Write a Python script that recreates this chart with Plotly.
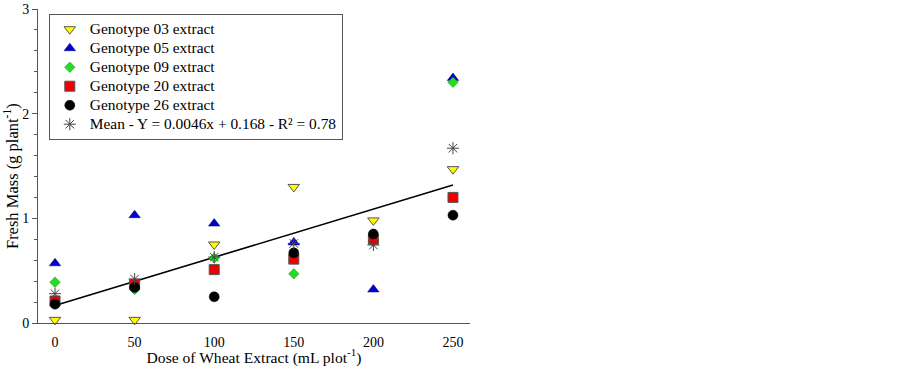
import plotly.graph_objects as go

doses = [0, 50, 100, 150, 200, 250]
g03 = [0.03, 0.03, 0.75, 1.30, 0.98, 1.47]
g05 = [0.57, 1.03, 0.95, 0.77, 0.32, 2.34]
g09 = [0.39, 0.32, 0.62, 0.47, 0.78, 2.30]
g20 = [0.21, 0.37, 0.51, 0.61, 0.80, 1.20]
g26 = [0.18, 0.34, 0.25, 0.67, 0.85, 1.03]
mean_vals = [0.28, 0.42, 0.63, 0.76, 0.745, 1.67]
slope, intercept = 0.0046, 0.168
fit_x = [0, 250]

names = ["Genotype 03 extract", "Genotype 05 extract", "Genotype 09 extract",
         "Genotype 20 extract", "Genotype 26 extract",
         "Mean - Y = 0.0046x + 0.168 - R² = 0.78"]

FONT = "Liberation Serif, Times New Roman, serif"

fig = go.Figure()
fig.add_trace(go.Scatter(
    x=fit_x, y=[slope * v + intercept for v in fit_x], mode="lines",
    line=dict(color="black", width=1.6), showlegend=False, hoverinfo="skip"))

styles = [
    (g03, dict(symbol="triangle-down", color="#ffff00", size=10, line=dict(color="#555555", width=1))),
    (g05, dict(symbol="triangle-up", color="#0000cc", size=10, line=dict(color="#00007a", width=0.5))),
    (g09, dict(symbol="diamond", color="#22dd22", size=8, line=dict(color="#118811", width=0.5))),
    (g20, dict(symbol="square", color="#ee0000", size=10, line=dict(color="#555555", width=1))),
    (g26, dict(symbol="circle", color="#000000", size=10, line=dict(color="#000000", width=0.5))),
    (mean_vals, dict(symbol="asterisk-open", color="#444444", size=10, line=dict(color="#444444", width=1))),
]
for (vals, mk), nm in zip(styles, names):
    fig.add_trace(go.Scatter(x=doses, y=vals, mode="markers",
                             name='<span style="font-size:15.4px">' + nm + '</span>',
                             marker=mk, cliponaxis=False))

fig.update_layout(
    width=902, height=367,
    margin=dict(l=38, r=432, t=9, b=44),
    paper_bgcolor="white", plot_bgcolor="white",
    font=dict(family=FONT, size=14, color="black"),
    showlegend=True,
    legend=dict(x=0.025, y=0.985, xanchor="left", yanchor="top",
                bgcolor="white", bordercolor="#555555", borderwidth=1,
                font=dict(family=FONT, size=12, color="black"),
                tracegroupgap=0, itemsizing="trace", itemwidth=30),
    xaxis=dict(range=[-10.7, 260.7], tickvals=[0, 50, 100, 150, 200, 250],
               showgrid=False, zeroline=False, showline=True, linecolor="#555555",
               linewidth=1, ticks="", ticklabelstandoff=6, tickfont=dict(size=14),
               automargin=False,
               title=dict(text="Dose of Wheat Extract (mL plot<sup>-1</sup>)",
                          font=dict(size=15.6), standoff=0)),
    yaxis=dict(range=[0, 3], tickvals=[0, 1, 2, 3], showgrid=False, zeroline=False,
               showline=True, linecolor="#555555", linewidth=1,
               ticks="outside", ticklen=5, tickcolor="#555555",
               minor=dict(dtick=0.2, ticks="outside", ticklen=3, tickcolor="#555555"),
               tickfont=dict(size=14), automargin=False),
    annotations=[dict(text="Fresh Mass (g plant<sup>-1</sup>)", textangle=-90,
                      xref="paper", yref="paper", x=0, y=0.468, xshift=-27,
                      xanchor="center", yanchor="middle", showarrow=False,
                      font=dict(family=FONT, size=16.5, color="black"))],
)

fig.write_html("out.html", post_script="document.body.style.margin='0';",
               config={"displayModeBar": False})
